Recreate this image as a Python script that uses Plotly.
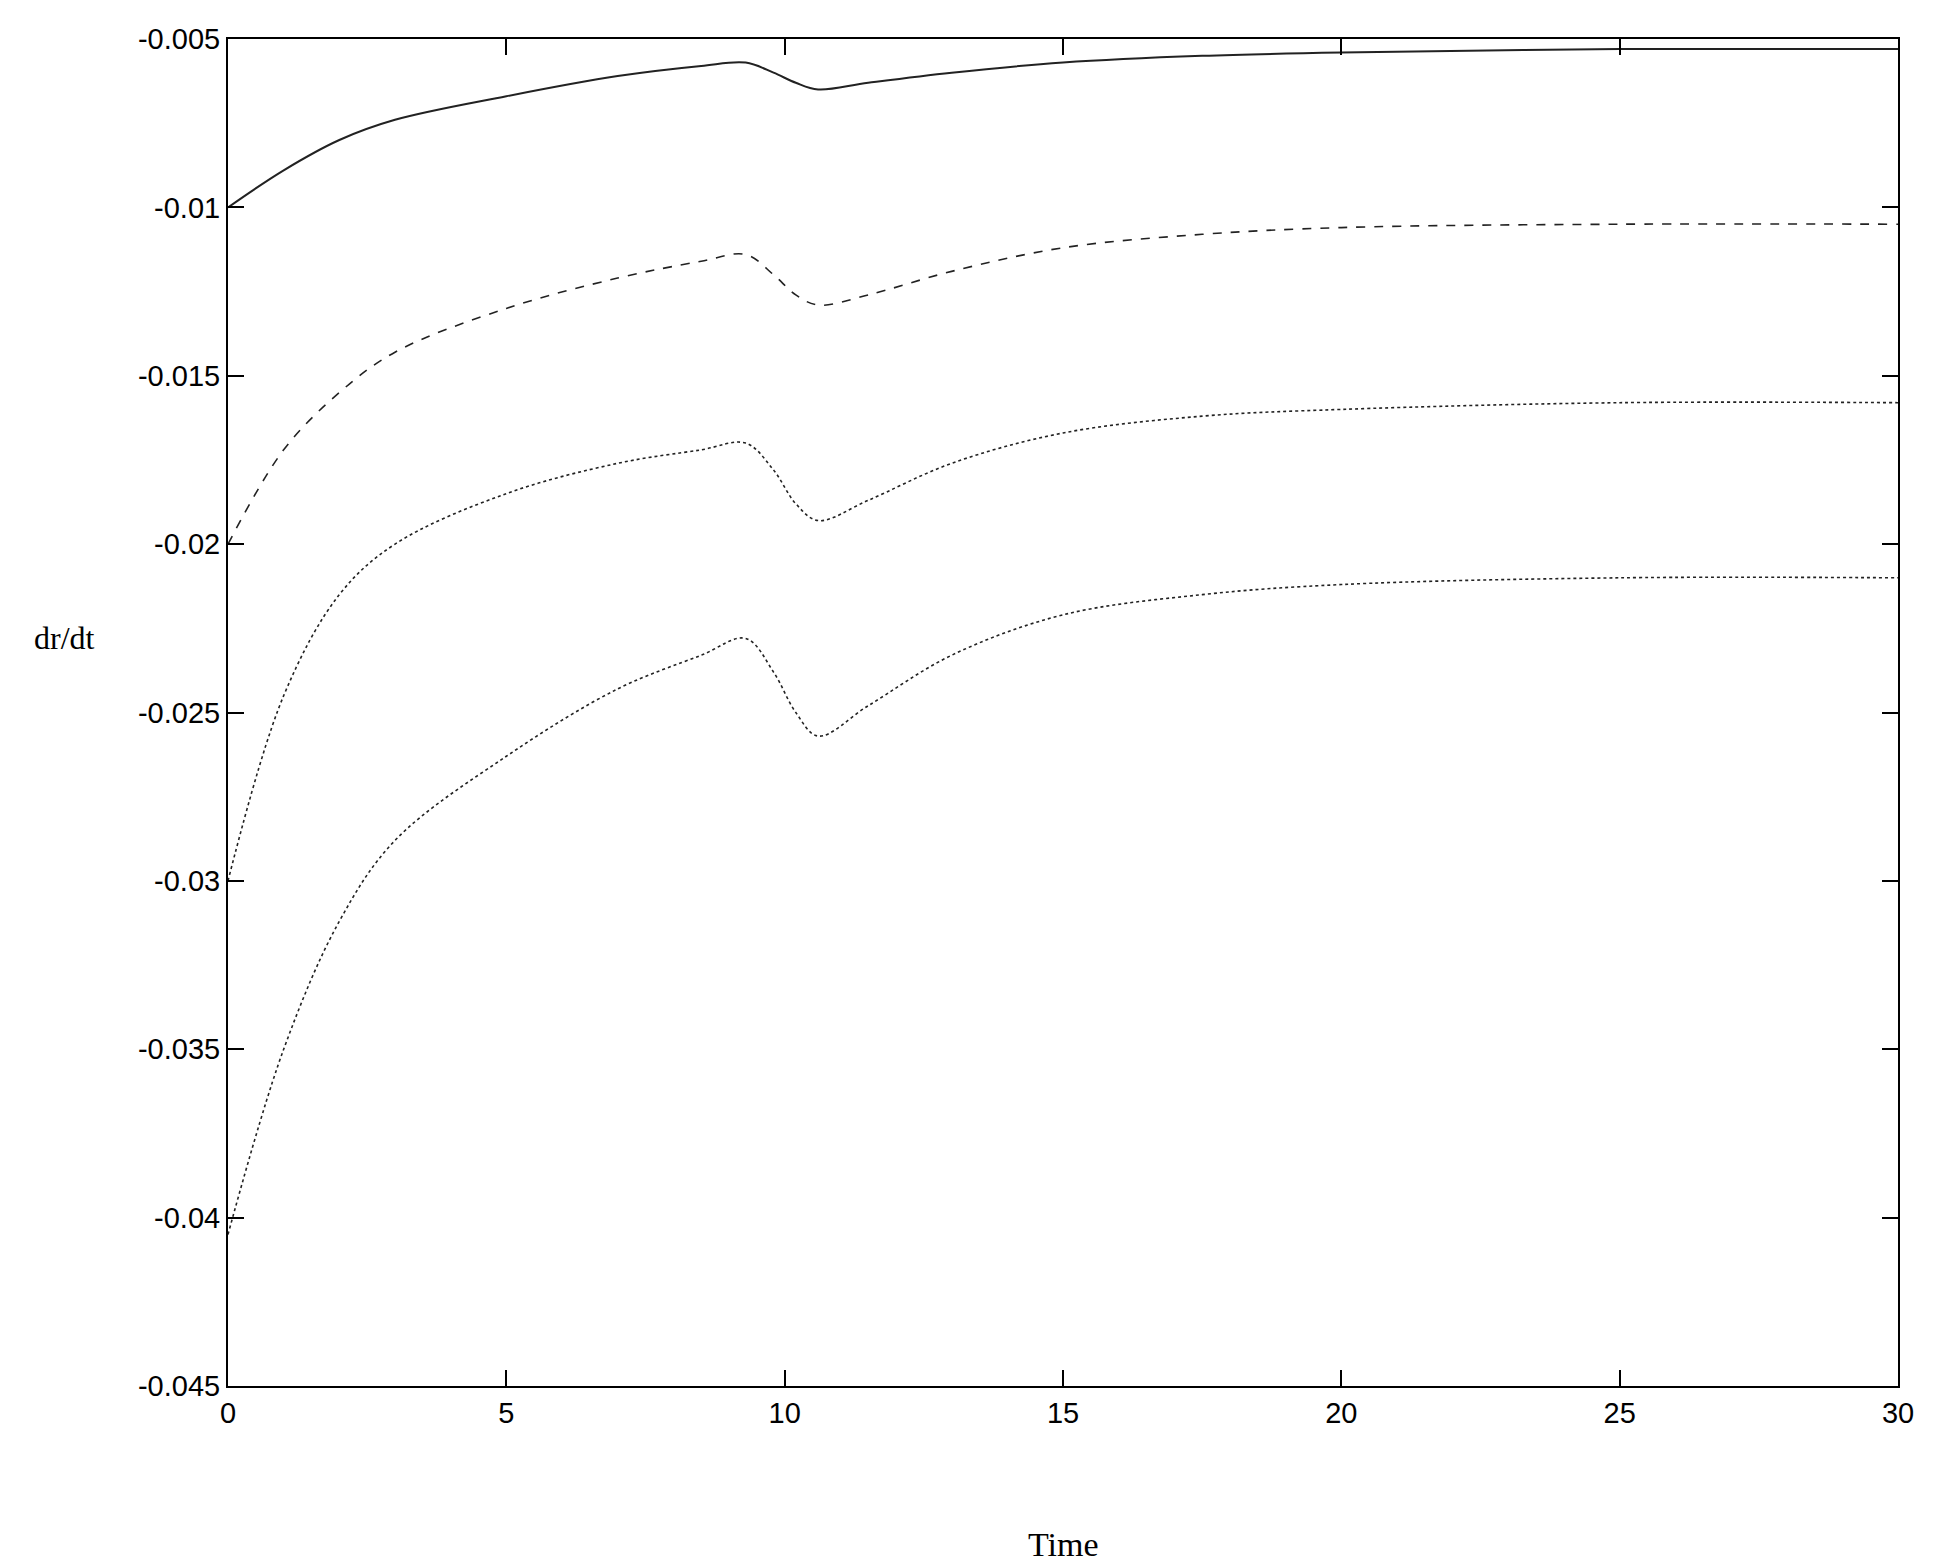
import plotly.graph_objects as go

time = [0, 1, 2, 3, 5, 7, 8.5, 9.3, 9.8, 10.2, 10.6, 11.5, 13, 15, 17.5, 20, 25, 30]
s1 = [-0.0100, -0.0089, -0.0080, -0.0074, -0.0067, -0.0061, -0.0058, -0.0057, -0.0060, -0.0063, -0.0065, -0.0063, -0.0060, -0.0057, -0.0055, -0.0054, -0.0053, -0.0053]
s2 = [-0.0200, -0.0172, -0.0155, -0.0143, -0.0130, -0.0121, -0.0116, -0.0114, -0.0120, -0.0126, -0.0129, -0.0126, -0.0119, -0.0112, -0.0108, -0.0106, -0.0105, -0.0105]
s3 = [-0.0300, -0.0245, -0.0215, -0.0200, -0.0185, -0.0176, -0.0172, -0.0170, -0.0178, -0.0188, -0.0193, -0.0187, -0.0176, -0.0167, -0.0162, -0.0160, -0.0158, -0.0158]
s4 = [-0.0405, -0.0350, -0.0312, -0.0288, -0.0263, -0.0243, -0.0233, -0.0228, -0.0238, -0.0250, -0.0257, -0.0248, -0.0233, -0.0221, -0.0215, -0.0212, -0.0210, -0.0210]

fig = go.Figure()
for ys, dash, w in [(s1, "solid", 2), (s2, "dash", 1.6), (s3, "3px,3px", 1.6), (s4, "dot", 1.6)]:
    fig.add_trace(go.Scatter(x=time, y=ys, mode="lines", line=dict(color="#222", dash=dash, width=w, shape="spline", smoothing=1.0), showlegend=False))

axcommon = dict(showgrid=False, zeroline=False, showline=True, linecolor="black", linewidth=2,
                mirror="ticks", ticks="inside", ticklen=16, tickwidth=2, tickcolor="black",
                tickfont=dict(family="Liberation Sans, Arial", size=29, color="black"))
fig.update_xaxes(range=[0, 30], tickvals=[0, 5, 10, 15, 20, 25, 30], **axcommon)
fig.update_yaxes(range=[-0.045, -0.005], tickvals=[-0.045, -0.04, -0.035, -0.03, -0.025, -0.02, -0.015, -0.01, -0.005],
                 ticktext=["-0.045", "-0.04", "-0.035", "-0.03", "-0.025", "-0.02", "-0.015", "-0.01", "-0.005"], **axcommon)
fig.add_annotation(text="Time", xref="paper", yref="paper", x=0.5, y=-0.118, showarrow=False, yanchor="middle",
                   font=dict(family="Liberation Serif, Times New Roman", size=34, color="black"))
fig.add_annotation(text="dr/dt", xref="paper", yref="paper", x=-0.098, y=0.555, showarrow=False, xanchor="center",
                   font=dict(family="Liberation Serif, Times New Roman", size=32, color="black"))
fig.update_layout(width=1947, height=1562, plot_bgcolor="white", paper_bgcolor="white",
                  margin=dict(l=220, r=57, t=31, b=184))
fig.write_html("out.html")
